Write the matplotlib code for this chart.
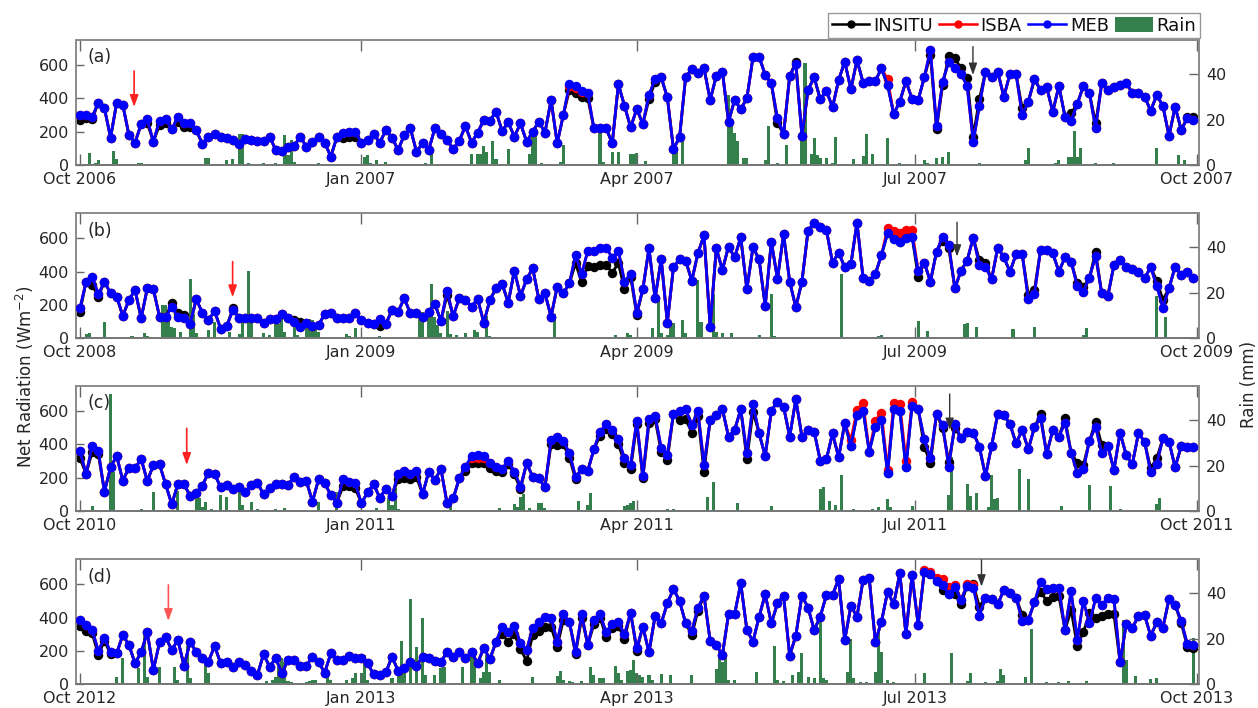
import numpy as np
import matplotlib
matplotlib.use("Agg")
import matplotlib.pyplot as plt
import matplotlib.dates as mdates
from matplotlib.lines import Line2D
from matplotlib.patches import Patch

# ---------------- data ----------------
panel_labels = ["(a)", "(b)", "(c)", "(d)"]
start_dates = ["2006-10-01", "2008-10-01", "2010-10-01", "2012-10-01"]
step_days = 2  # one value every two days

# MEB net radiation (W m-2), one value every 2 days from 1 Oct
meb_a = [300,300,290,374,340,164,374,360,180,134,246,274,140,266,276,214,286,254,254,210,126,170,186,170,164,150,126,154,150,146,146,170,90,86,110,114,170,110,140,166,134,50,170,190,196,196,134,150,186,134,210,164,90,180,220,80,
         130,90,220,186,150,94,146,234,134,194,270,266,320,204,256,170,250,140,200,260,194,390,130,300,486,474,446,430,220,220,220,130,484,354,226,336,246,420,516,526,406,96,166,530,574,554,580,390,534,560,260,390,334,400,646,650,540,490,280,186,534,606,174,450,526,
         394,446,346,510,620,454,630,494,504,504,580,480,306,380,504,396,390,526,690,234,500,620,580,546,474,140,354,560,526,560,410,546,546,300,380,514,450,466,320,474,290,266,366,474,430,220,490,450,466,480,490,434,434,410,326,420,354,174,350,210,280,270]
meb_b = [180,340,370,264,340,270,250,134,230,290,120,300,294,130,126,190,130,124,86,234,154,110,164,56,74,170,124,120,120,124,90,114,114,146,124,100,70,94,74,80,146,154,120,124,120,150,110,90,86,114,86,170,160,240,150,150,
         130,160,206,104,284,134,240,230,190,236,94,230,300,326,214,406,254,354,420,234,270,130,310,270,330,500,386,526,526,540,544,484,526,340,386,154,294,540,240,476,94,426,476,464,346,510,620,70,540,410,550,486,606,294,546,474,194,580,356,624,340,186,340,646,694,
         670,650,454,514,426,444,694,360,346,386,500,630,594,578,600,610,406,454,340,520,610,560,300,406,466,604,440,430,354,544,486,400,504,506,236,266,530,530,510,400,486,460,314,280,364,494,270,254,440,470,426,414,400,360,426,314,184,300,430,380,400,360]
meb_c = [360,222,390,360,116,262,330,182,260,256,312,180,276,280,160,40,162,162,90,110,152,230,222,142,156,132,146,112,156,170,100,140,162,160,156,206,172,180,56,190,166,96,50,190,176,166,46,112,160,80,132,90,222,240,220,242,
         100,236,186,252,46,76,196,266,330,336,330,286,262,252,300,236,146,286,206,196,142,426,446,422,346,206,250,242,370,476,520,486,430,316,276,542,210,550,570,380,336,582,600,610,516,600,276,546,576,612,446,486,610,346,640,466,330,602,656,626,446,670,446,486,476,
         302,310,466,322,526,390,576,602,356,506,546,226,610,602,262,632,610,432,316,582,516,266,522,436,476,470,386,210,390,582,576,522,406,486,370,502,560,342,486,446,530,350,230,250,422,506,346,390,246,470,336,280,466,416,232,282,436,416,262,390,386,382]
meb_d = [386,356,326,200,280,192,186,296,236,126,192,312,86,252,282,206,266,112,252,196,156,136,230,126,136,106,136,116,80,56,180,106,156,66,146,146,112,112,166,132,70,186,146,146,172,156,156,126,60,56,72,166,80,100,136,112,
         166,156,140,132,196,166,196,160,192,126,220,150,256,346,312,352,246,206,340,372,406,400,256,420,372,196,420,236,386,420,312,360,372,300,430,216,346,192,410,366,486,572,500,366,320,460,532,260,236,176,420,420,606,326,256,406,540,366,486,532,172,292,532,460,326,
         406,536,536,630,266,470,406,626,636,256,376,556,480,666,300,656,356,676,660,620,596,540,586,506,592,580,412,520,512,480,566,546,520,380,386,492,612,570,580,580,326,560,266,500,366,516,476,516,512,132,360,336,412,416,292,372,340,512,476,380,240,236]

# INSITU / ISBA values where they visibly depart from MEB (index: value); elsewhere they lie under MEB
insitu_a = {0:270,1:280,2:275,11:250,13:240,14:250,16:260,17:230,18:230,43:165,44:170,45:170,
            80:450,81:434,82:410,83:400,93:394,94:500,114:250,117:620,
            139:660,140:215,141:480,142:654,143:640,144:580,145:520,146:170,147:394,154:340,162:310,166:250,181:290,182:290}
isba_a = {80:472,81:462,82:436,132:514}
insitu_b = {0:160,2:320,3:250,15:214,16:150,17:140,25:180,35:110,36:95,49:74,
            60:260,81:450,82:336,83:434,84:430,85:438,86:440,87:394,88:450,89:294,90:370,91:140,
            137:370,141:584,142:540,147:470,148:450,155:260,156:290,163:330,164:306,166:520,176:346,177:230}
isba_b = {132:660,133:646,134:634,135:650,136:650}
insitu_c = {0:316,2:356,3:340,43:150,44:150,45:136,52:190,53:200,54:195,55:205,
            63:240,64:286,65:290,66:288,67:260,68:240,69:232,70:280,71:220,72:130,77:400,78:396,79:400,80:320,81:190,
            85:450,86:490,87:460,88:400,89:290,90:250,91:520,92:196,93:526,94:550,95:356,96:306,98:546,99:550,100:470,
            101:570,102:236,109:310,110:596,
            138:386,139:286,141:496,142:296,143:500,157:580,161:556,163:290,164:276,166:536,167:396,175:256,176:316}
isba_c = {64:316,65:320,66:316,126:426,127:606,128:646,130:542,131:590,132:246,133:646,134:642,135:302,136:652}
insitu_d = {0:352,1:320,2:306,3:176,4:262,5:180,
            69:300,70:256,71:300,72:212,73:140,74:296,75:320,76:346,77:346,78:226,79:386,81:180,82:400,84:360,85:400,
            86:286,87:340,88:350,89:272,91:200,100:296,101:440,
            141:566,142:540,143:540,144:480,145:592,146:600,147:466,154:416,157:556,158:500,159:526,160:530,162:446,
            163:232,164:312,165:426,166:400,167:412,168:420,169:420,180:366,181:226,182:220}
isba_d = {138:686,139:676,140:640,141:630,142:586,143:596,145:600,146:596}

# daily rain (mm): day since 1 Oct -> amount
rain_a = {3:5.1,5:0.7,6:2,11:6.3,12:2.5,19:0.7,20:0.7,23:0.4,32:0.3,41:3,42:3,48:2,50:2.5,52:13.6,53:13.6,55:0.7,60:0.7,64:0.7,
          67:13.2,68:4.4,69:11,70:1.5,78:0.7,93:3.7,94:4.4,95:1,97:2,100:1.2,113:0.7,115:7.3,128:4.8,130:4.8,131:4.8,132:8.5,
          133:5.9,135:10.7,136:2.5,140:6.9,147:4.8,148:16,149:17,151:1,157:1.5,158:8.8,170:14.2,171:1.5,174:5.6,176:5.6,
          180:5,181:5,182:5.3,185:1.9,194:8,195:6,197:11.4,212:30.8,213:18.3,214:14,215:10.7,217:3.2,218:3,224:2,225:17.2,
          228:1,231:9,236:12.5,237:44.7,239:5,240:11.7,241:4.4,242:3,244:3,246:1,247:12.5,248:0.3,253:2.5,256:4,257:13.5,
          259:5,264:11.7,268:0.7,276:2,277:1,280:3,282:3.7,284:5.9,294:1,309:2,310:7.3,319:1,320:2,323:3.4,324:3.4,325:15.1,
          326:3.4,327:7.3,332:0.7,338:0.7,352:7.6,359:4.4,361:2}
rain_b = {2:1.9,3:2.2,8:7.3,17:1,21:2.5,22:1,27:14.5,28:14.5,29:9.4,30:5.1,31:4.4,33:2.9,36:26.2,37:10.9,38:2.2,42:3.6,44:7.3,
          45:0.7,49:2.9,52:1.9,53:8,55:29.8,56:10.9,60:2.2,62:1.5,64:10.2,65:6.5,66:10.9,67:2.9,70:5.1,71:1.5,74:8,75:8.7,76:8,
          77:4.4,78:2.9,80:0.7,87:1.9,88:1,90:4.4,98:1,111:11.6,112:11.6,114:13.1,115:24,116:9.5,117:5.8,118:2.2,120:11.9,
          121:1.9,123:1.5,126:2.2,129:3.6,130:2.9,133:9.7,134:1,155:10.9,156:0.7,175:1.5,179:2.2,180:1.5,187:4.4,189:17,
          190:2.2,192:1.5,193:7.3,194:6.8,197:8,198:2.2,202:25.5,203:7.3,207:19.3,208:2.9,210:2.2,213:2.5,222:1.5,226:19.3,
          227:1,229:0.7,249:28.1,261:1.2,262:1.5,269:0.7,274:7.7,277:3.3,289:6.1,290:6.8,293:5.1,305:3.9,307:0.4,309:0.7,
          312:5.1,328:1.5,329:4.4,336:0.7,338:0.4,352:18.5,355:9.5,361:0.7}
rain_c = {4:2.3,10:51.7,11:17.3,20:0.7,24:8.5,32:8.8,38:8.9,39:5.6,40:1.9,41:4.1,43:0.7,46:7,48:6,52:11.9,53:2.6,56:4.1,58:0.7,
          64:0.7,67:1.5,78:4.1,84:8.5,97:1.5,101:5.6,102:2.6,103:10.2,104:0.7,121:2.2,137:1.5,142:3.1,143:1.9,144:6,145:7.5,
          147:1.2,150:3.4,151:3.4,152:1.5,163:4.5,166:2.6,167:8,178:2.2,179:2.6,180:3.4,181:4.5,192:0.7,194:0.7,205:6,
          207:12.6,215:3.7,226:2.2,242:9.5,243:10.4,245:4.5,247:2.6,249:15.8,253:0.7,259:0.7,261:1.6,264:5.1,265:1.9,272:2.2,
          284:7,285:23.6,290:11.9,291:6.6,293:8,297:1.9,298:15.8,299:5.1,300:5.6,307:18.7,310:14.3,321:2.3,330:11.4,337:11,
          340:0.7,352:2.9,353:5.6}
rain_d = {12:3.4,14:11.4,19:7.3,21:21.7,22:3.4,26:7.8,31:7.8,32:1.9,35:17,36:2.6,41:9.2,42:4.8,52:0.4,61:1.5,63:1.9,64:3.4,
          65:7.8,66:11.4,67:10,68:1.5,69:1.2,74:0.9,75:1.5,76:1.9,77:1.9,81:4.1,82:1.9,87:1.9,89:2.6,90:4.8,92:4.8,93:12.9,
          94:1.9,102:2.6,104:3.8,105:19,106:5.6,108:37.5,110:16.5,112:29,113:4,116:4.1,118:7.3,119:7.8,125:7.8,128:14.3,
          129:12.9,131:2.6,132:5.6,133:12.9,134:5.6,137:1.9,148:3.4,156:3.8,157:5.9,158:1.9,160:1.5,161:1.2,164:1.5,167:7.8,
          168:4.1,170:2.6,171:2.6,175:8.2,176:4.8,177:1.9,179:5.9,180:6.3,181:10.7,182:4.8,183:4.1,184:3.4,186:4.1,187:1.9,
          190:4.4,193:4.1,200:4.1,208:6.7,209:14.3,210:10,211:12.9,212:1.9,214:1.9,221:5.6,227:16.8,228:1.9,230:1.5,233:4.1,
          235:5.6,236:13.6,238:3.4,240:2.6,242:31.9,243:2.6,244:1.9,251:5.6,252:19.8,253:2.6,255:0.9,257:0.9,260:5.6,
          261:23.4,262:14.3,264:1.9,266:0.9,276:4.8,285:13.6,290:1.5,291:4.8,296:0.9,300:1.5,301:6.7,302:4.1,309:3.4,
          311:24.2,316:0.9,320:1.2,323:1.5,329:1.5,341:28.3,342:10.7,345:3.8,350:2.3,352:2.9,364:20.5}

# annotation arrows (day, tail value, tip value)
red_arrows = [(17.7, 564, 348), (49.9, 460, 246), (34.9, 496, 276), (28.9, 596, 380)]
black_arrows = [(291.9, 710, 540), (286.7, 696, 490), (284.3, 702, 486), (294.7, 746, 586)]

meb_all = [meb_a, meb_b, meb_c, meb_d]
insitu_all = [insitu_a, insitu_b, insitu_c, insitu_d]
isba_all = [isba_a, isba_b, isba_c, isba_d]
rain_all = [rain_a, rain_b, rain_c, rain_d]

# ---------------- styling ----------------
GREEN = "#33804d"
TXT = "#262626"
SPINE = "#8c8c8c"
W, H = 1258, 708
fig = plt.figure(figsize=(W / 100, H / 100), dpi=100)

left, width, height = 76 / W, 1123 / W, 125 / H
bottoms_px = [165, 338.3, 511, 684.3]


def with_overrides(base, overrides):
    s = np.array(base, dtype=float)
    for k, v in overrides.items():
        s[k] = v
    return s


for i in range(4):
    start = mdates.date2num(np.datetime64(start_dates[i]))
    meb = np.array(meb_all[i], dtype=float)
    n = len(meb)
    x = start + np.arange(n) * step_days
    insitu = with_overrides(meb_all[i], insitu_all[i])
    isba = with_overrides(meb_all[i], isba_all[i])

    ax = fig.add_axes([left, (H - bottoms_px[i]) / H, width, height])
    ax2 = ax.twinx()
    ax.set_zorder(ax2.get_zorder() + 1)
    ax.patch.set_visible(False)

    rd = np.array(list(rain_all[i].keys()), dtype=float)
    rv = np.array(list(rain_all[i].values()), dtype=float)
    ax2.bar(start + rd, rv, width=1.0, color=GREEN, linewidth=0, align="center")
    ax2.set_ylim(0, 55)
    ax2.set_yticks([0, 20, 40])

    ax.plot(x, insitu, "-o", color="k", lw=2.0, ms=6.8, mew=0, zorder=2)
    ax.plot(x, isba, "-o", color="#ff0000", lw=2.0, ms=6.8, mew=0, zorder=3)
    ax.plot(x, meb, "-o", color="#0000ff", lw=2.0, ms=6.8, mew=0, zorder=4)

    ax.set_ylim(0, 750)
    ax.set_yticks([0, 200, 400, 600])
    ax.set_xlim(start - 1.3, start + 365.8)
    ax.xaxis.set_major_locator(mdates.MonthLocator(bymonth=[1, 4, 7, 10]))
    ax.xaxis.set_major_formatter(mdates.DateFormatter("%b %Y"))

    ax.tick_params(axis="x", direction="in", top=True, length=8, width=1, color="#666666",
                   labelsize=11.5, labelcolor=TXT, pad=5)
    ax.tick_params(axis="y", direction="in", length=6, width=1, color="#666666",
                   labelsize=11.5, labelcolor=TXT, pad=5)
    ax2.tick_params(axis="y", direction="in", length=7, width=1, color="#666666",
                    labelsize=11.5, labelcolor=TXT, pad=5)
    for a in (ax, ax2):
        for side, sp in a.spines.items():
            sp.set_color(SPINE)
            sp.set_linewidth(1.3)
        a.spines["bottom"].set_color("#777777")

    ax.text(0.01, 0.86, panel_labels[i], transform=ax.transAxes, fontsize=12.5,
            color=TXT, va="center", ha="left", zorder=6)

    d, y0, y1 = red_arrows[i]
    ax.annotate("", xy=(start + d, y1), xytext=(start + d, y0),
                arrowprops=dict(arrowstyle="-|>,head_length=0.7,head_width=0.25",
                                color="#ff2020" if i < 3 else "#ff5555", lw=1.2,
                                shrinkA=0, shrinkB=0), zorder=7)
    d, y0, y1 = black_arrows[i]
    ax.annotate("", xy=(start + d, y1), xytext=(start + d, y0),
                arrowprops=dict(arrowstyle="-|>,head_length=0.7,head_width=0.25",
                                color="#333333", lw=1.0, shrinkA=0, shrinkB=0), zorder=7)

fig.text(25 / W, (H - 377) / H, "Net Radiation (Wm$^{-2}$)", rotation=90, va="center",
         ha="center", fontsize=12, color=TXT)
fig.text(1249 / W, (H - 384) / H, "Rain (mm)", rotation=90, va="center", ha="center",
         fontsize=12, color=TXT)

handles = [Line2D([], [], color="k", marker="o", ms=5, lw=1.8),
           Line2D([], [], color="#ff0000", marker="o", ms=5, lw=1.8),
           Line2D([], [], color="#0000ff", marker="o", ms=5, lw=1.8),
           Patch(facecolor=GREEN, edgecolor="none")]
leg = fig.legend(handles, ["INSITU", "ISBA", "MEB", "Rain"], loc="upper right",
                 bbox_to_anchor=(1200 / W, 1 - 13 / H), ncol=4, fontsize=13,
                 frameon=True, fancybox=False, edgecolor="#999999", framealpha=1,
                 borderaxespad=0, borderpad=0.2, handlelength=2.1, handleheight=0.9,
                 handletextpad=0.2, columnspacing=0.35)
leg.get_frame().set_linewidth(1.0)
for t in leg.get_texts():
    t.set_color("#111111")

fig.savefig("out.png", dpi=100)
